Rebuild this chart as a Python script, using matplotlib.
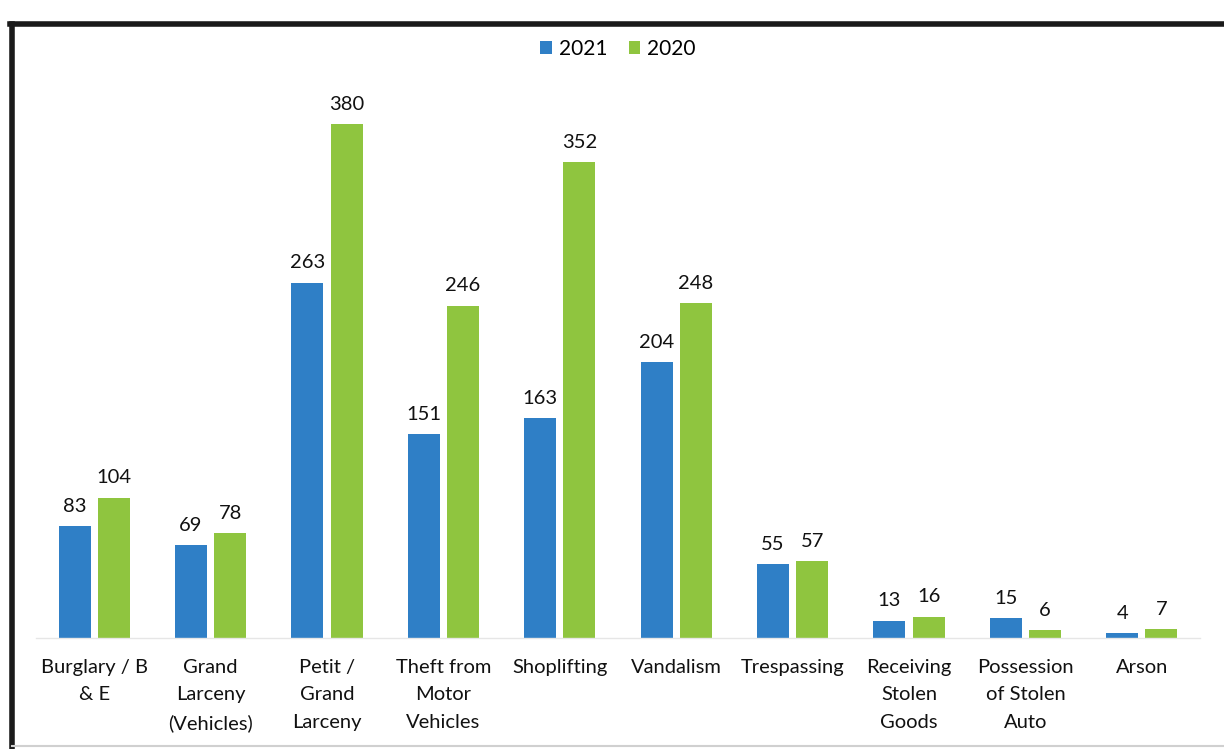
import matplotlib.pyplot as plt
import numpy as np
from matplotlib.lines import Line2D

plt.rcParams['font.family'] = ['Lato', 'DejaVu Sans']

categories = ["Burglary / B\n& E", "Grand\nLarceny\n(Vehicles)", "Petit /\nGrand\nLarceny",
              "Theft from\nMotor\nVehicles", "Shoplifting", "Vandalism", "Trespassing",
              "Receiving\nStolen\nGoods", "Possession\nof Stolen\nAuto", "Arson"]
vals_2021 = [83, 69, 263, 151, 163, 204, 55, 13, 15, 4]
vals_2020 = [104, 78, 380, 246, 352, 248, 57, 16, 6, 7]

blue = "#2f7fc6"
green = "#8fc53f"

fig = plt.figure(figsize=(12.24, 7.49), dpi=100)
ax = fig.add_axes([0.0294, 0.148, 0.9510, 0.722])

x = np.arange(len(categories))
w = 0.275
off = 0.168
b1 = ax.bar(x - off, vals_2021, w, color=blue, label="2021")
b2 = ax.bar(x + off, vals_2020, w, color=green, label="2020")

for bars in (b1, b2):
    for r in bars:
        ax.annotate(str(int(r.get_height())), (r.get_x() + r.get_width() / 2, r.get_height()),
                    xytext=(0, 8), textcoords="offset points", ha="center", va="bottom",
                    fontsize=14.5, color="#111111", annotation_clip=False)

ax.set_xlim(-0.5, len(categories) - 0.5)
ax.set_ylim(0, 400)
ax.set_yticks([])
ax.set_xticks(x)
ax.set_xticklabels(categories, fontsize=14.5, color="#111111", linespacing=1.75)
ax.tick_params(axis="x", length=0, pad=15)
for s in ["top", "right", "left"]:
    ax.spines[s].set_visible(False)
ax.spines["bottom"].set_color("#e6e6e6")
ax.spines["bottom"].set_linewidth(1)

fig.legend(loc="center", bbox_to_anchor=(0.505, 0.935), ncol=2, frameon=False,
           fontsize=15, handlelength=0.55, handleheight=0.6, handletextpad=0.35,
           columnspacing=1.0)

# scanned frame around the chart
fig.add_artist(Line2D([0.010, 0.010], [0.003, 0.968], transform=fig.transFigure,
                      color="#1a1a1a", linewidth=4))
fig.add_artist(Line2D([0.008, 1.0], [0.968, 0.968], transform=fig.transFigure,
                      color="#1a1a1a", linewidth=4))
fig.add_artist(Line2D([0.010, 1.0], [0.004, 0.004], transform=fig.transFigure,
                      color="#d0d0d0", linewidth=1.5))

fig.savefig("out.png", dpi=100, facecolor="white")
